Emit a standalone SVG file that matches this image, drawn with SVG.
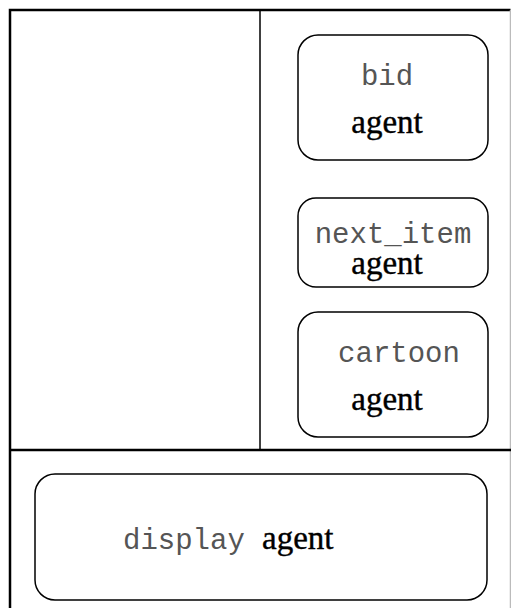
<svg xmlns="http://www.w3.org/2000/svg" width="511" height="608" viewBox="0 0 511 608">
  <style>
    .frame { fill: none; stroke: #000; stroke-width: 2.5; }
    .divider { stroke: #000; stroke-width: 1.5; }
    .agent-box { fill: #fff; stroke: #000; stroke-width: 1.5; }
    .name { font-family: "Liberation Mono", "Courier New", monospace; font-size: 29px; fill: #555; }
    .kind { font-family: "Liberation Serif", "Times New Roman", serif; font-size: 33px; fill: #000; stroke: #000; stroke-width: 0.4; }
  </style>
  <rect width="511" height="608" fill="#fff"/>

  <!-- outer frame and panel dividers -->
  <g id="frame">
    <path class="frame" d="M10,620 V10 H510.5"/>
    <line x1="510.5" y1="10" x2="510.5" y2="620" stroke="#bbb" stroke-width="1.5"/>
    <line class="divider" x1="260" y1="10" x2="260" y2="450"/>
    <line x1="10" y1="450" x2="511" y2="450" stroke="#000" stroke-width="2.5"/>
  </g>

  <g id="connectors"></g>

  <g id="bid">
    <rect class="agent-box" x="298" y="35" width="190" height="125" rx="20"/>
    <text class="name" x="387" y="85" text-anchor="middle">bid</text>
    <text class="kind" x="387" y="133" text-anchor="middle">agent</text>
  </g>

  <g id="next_item">
    <rect class="agent-box" x="298" y="198" width="190" height="89" rx="18"/>
    <text class="name" x="393" y="243" text-anchor="middle">next_item</text>
    <text class="kind" x="387" y="274" text-anchor="middle">agent</text>
  </g>

  <g id="cartoon">
    <rect class="agent-box" x="298" y="312" width="190" height="125" rx="20"/>
    <text class="name" x="399" y="362" text-anchor="middle">cartoon</text>
    <text class="kind" x="387" y="410" text-anchor="middle">agent</text>
  </g>

  <g id="display">
    <rect class="agent-box" x="35" y="474" width="452" height="126" rx="20"/>
    <text x="123" y="549"><tspan class="name">display</tspan><tspan class="kind" x="262">agent</tspan></text>
  </g>
</svg>
